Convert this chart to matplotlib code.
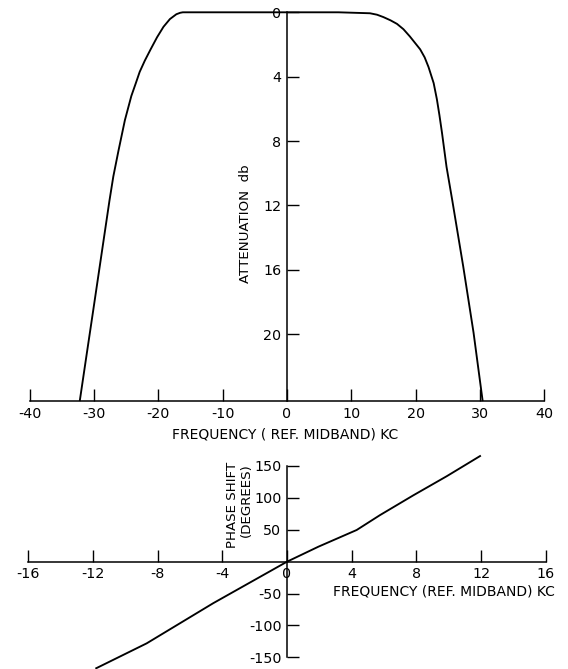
import matplotlib
matplotlib.use("Agg")
import matplotlib.pyplot as plt

# Attenuation response of the band-pass filter (db vs. kc from midband)
atten_freq = [-32.2, -31.2, -30.1, -29.1, -27.6, -27.0, -26.2, -25.2, -24.2,
              -23.5, -22.9, -22.1, -21.2, -20.2, -19.2, -18.2, -17.2, -16.6,
              -16.2, -10.0, 0.0, 8.0, 12.9, 14.0, 15.0, 16.1, 17.1, 18.1,
              19.1, 19.9, 20.7, 21.4, 22.0, 22.4, 22.8, 23.3, 23.7, 24.1,
              24.8, 25.7, 27.4, 29.0, 30.4]
atten_db = [24.1, 21.4, 18.45, 15.75, 11.7, 10.2, 8.6, 6.7, 5.2,
            4.4, 3.7, 3.0, 2.3, 1.55, 0.9, 0.42, 0.12, 0.03,
            0.0, 0.0, 0.0, 0.0, 0.06, 0.15, 0.3, 0.5, 0.72, 1.05,
            1.5, 1.9, 2.3, 2.8, 3.4, 3.9, 4.4, 5.4, 6.4, 7.5,
            9.6, 11.7, 15.8, 19.9, 24.1]
atten_xticks = [-40, -30, -20, -10, 0, 10, 20, 30, 40]
atten_yticks = [0, 4, 8, 12, 16, 20]

# Phase shift through the passband (degrees vs. kc from midband)
phase_freq = [-11.8, -8.68, -4.56, 0.0, 1.94, 4.31, 5.75, 7.81, 9.88, 11.94]
phase_deg = [-167, -128, -65, 0, 23.5, 49.7, 73, 104, 134, 165.6]
phase_xticks = [-16, -12, -8, -4, 0, 4, 8, 12, 16]
phase_yticks = [-150, -100, -50, 50, 100, 150]

plt.rcParams["font.family"] = ["DejaVu Sans"]
W, H = 568, 669
fig = plt.figure(figsize=(W / 100, H / 100), dpi=100)


def frac(x0, x1, ytop, ybot):
    return [x0 / W, 1 - ybot / H, (x1 - x0) / W, (ybot - ytop) / H]


lw_axis = 1.1
lw_curve = 1.35
tick_kw = dict(direction="in", length=8.5, width=1.0, labelsize=10.3, pad=4)

# ---------------- attenuation panel ----------------
ax1 = fig.add_axes(frac(29.7, 544.3, 12.3, 401))
ax1.set_xlim(-40, 40)
ax1.set_ylim(24.15, 0)
for s in ("top", "right"):
    ax1.spines[s].set_visible(False)
ax1.spines["left"].set_position(("data", 0))
ax1.spines["left"].set_linewidth(lw_axis)
ax1.spines["bottom"].set_linewidth(lw_axis)
ax1.set_xticks(atten_xticks)
ax1.set_xticklabels([str(v) for v in atten_xticks])
ax1.set_yticks(atten_yticks)
ax1.set_yticklabels([str(v) for v in atten_yticks])
ax1.tick_params(axis="both", **tick_kw)
ax1.patch.set_visible(False)
ax1.plot(atten_freq, atten_db, color="black", lw=lw_curve, clip_on=False,
         solid_joinstyle="round")
ax1.text(-6.4, 13.15, "ATTENUATION  db", rotation=90, ha="center",
         va="center", fontsize=9.6)
ax1.text(-0.3, 26.25, "FREQUENCY ( REF. MIDBAND) KC", ha="center",
         va="center", fontsize=10, clip_on=False)

# ---------------- phase panel ----------------
ax2 = fig.add_axes(frac(28.3, 545.7, 466, 657.4))
ax2.set_xlim(-16, 16)
ax2.set_ylim(-150, 150)
for s in ("top", "right"):
    ax2.spines[s].set_visible(False)
ax2.spines["left"].set_position(("data", 0))
ax2.spines["bottom"].set_position(("data", 0))
ax2.spines["left"].set_linewidth(lw_axis)
ax2.spines["bottom"].set_linewidth(lw_axis)
ax2.set_xticks(phase_xticks)
ax2.set_xticklabels([str(v) for v in phase_xticks])
ax2.set_yticks(phase_yticks)
ax2.set_yticklabels([str(v) for v in phase_yticks])
ax2.tick_params(axis="both", **tick_kw)
ax2.patch.set_visible(False)
ax2.plot(phase_freq, phase_deg, color="black", lw=lw_curve, clip_on=False,
         solid_joinstyle="round")
ax2.text(-3.4, 89, "PHASE SHIFT", rotation=90, ha="center", va="center",
         fontsize=9.6)
ax2.text(-2.5, 97, "(DEGREES)", rotation=90, ha="center", va="center",
         fontsize=9.6)
ax2.text(9.7, -46, "FREQUENCY (REF. MIDBAND) KC", ha="center", va="center",
         fontsize=10)

fig.savefig("out.png", dpi=100)
